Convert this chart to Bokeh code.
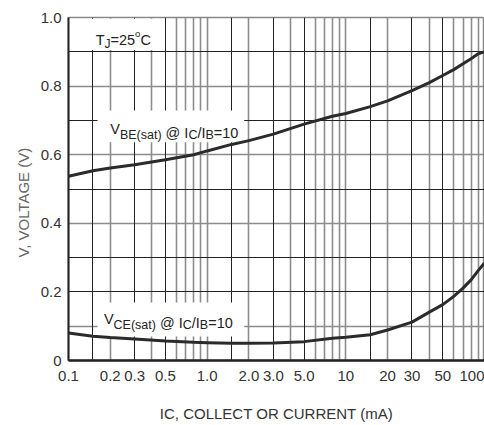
from bokeh.plotting import figure
from bokeh.models import FixedTicker, Grid, BoxAnnotation, Range1d, Title
from bokeh.core.properties import value
from bokeh.embed import file_html
from bokeh.resources import INLINE

# ---------------- data ----------------
ic_ma = [0.1, 0.15, 0.2, 0.3, 0.5, 0.8, 1.0, 1.5, 2.0, 3.0, 5.0, 8.0,
         10, 15, 20, 30, 40, 50, 60, 70, 80, 90, 100]
vbe_sat = [0.537, 0.553, 0.561, 0.571, 0.585, 0.600, 0.611, 0.630, 0.641,
           0.660, 0.689, 0.712, 0.720, 0.740, 0.757, 0.787, 0.810, 0.831,
           0.848, 0.865, 0.880, 0.894, 0.900]
vce_sat = [0.080, 0.071, 0.067, 0.063, 0.057, 0.053, 0.052, 0.050, 0.050,
           0.051, 0.055, 0.065, 0.068, 0.075, 0.089, 0.112, 0.141, 0.163,
           0.187, 0.211, 0.235, 0.262, 0.284]

x_tick_values = [0.1, 0.2, 0.3, 0.5, 1, 2, 3, 5, 10, 20, 30, 50, 100]
x_tick_labels = ["0.1", "0.2", "0.3", "0.5", "1.0", "2.0", "3.0", "5.0",
                 "10", "20", "30", "50", "100"]
y_tick_values = [0, 0.2, 0.4, 0.6, 0.8, 1.0]
y_tick_labels = ["0", "0.2", "0.4", "0.6", "0.8", "1.0"]

grid_dark_x = [0.15, 0.3, 0.5, 1.5, 3, 5, 15, 30, 50]
grid_light_x = [0.2, 0.4, 0.6, 0.7, 0.8, 0.9, 1, 2, 4, 6, 7, 8, 9, 10,
                20, 40, 60, 70, 80, 90]
grid_dark_y = [0.2, 0.3, 0.5, 0.7, 0.9]
grid_light_y = [0.1, 0.4, 0.6, 0.8]

x_title = "IC, COLLECT OR CURRENT (mA)"
y_title = "V, VOLTAGE (V)"

FONT = "Liberation Sans"
INK = "#222222"

p = figure(width=484, height=425, x_axis_type="log",
           x_range=Range1d(0.1, 100), y_range=Range1d(0, 1.0),
           output_backend="svg", toolbar_location=None,
           min_border_left=68, min_border_right=0,
           min_border_top=17, min_border_bottom=65)
p.background_fill_color = "white"
p.border_fill_color = "white"
p.outline_line_color = "#888888"
p.outline_line_width = 1.5
p.xgrid.grid_line_color = None
p.ygrid.grid_line_color = None

# axes
for ax in (p.xaxis[0], p.yaxis[0]):
    ax.major_tick_line_color = None
    ax.minor_tick_line_color = None
    ax.major_tick_out = 0
    ax.major_tick_in = 0
    ax.minor_tick_out = 0
    ax.minor_tick_in = 0
    ax.major_label_text_font = FONT
    ax.major_label_text_font_size = "15px"
    ax.major_label_text_color = "#333333"
    ax.axis_line_color = INK

p.xaxis.ticker = FixedTicker(ticks=x_tick_values)
p.xaxis.major_label_overrides = dict(zip(x_tick_values, x_tick_labels))
p.yaxis.ticker = FixedTicker(ticks=y_tick_values)
p.yaxis.major_label_overrides = dict(zip(y_tick_values, y_tick_labels))
p.xaxis.axis_line_width = 2.5
p.yaxis.axis_line_width = 2
p.xaxis.major_label_standoff = 10
p.yaxis.major_label_standoff = 7

# x axis title
p.xaxis.axis_label = x_title
p.xaxis.axis_label_text_font = FONT
p.xaxis.axis_label_text_font_size = "15px"
p.xaxis.axis_label_text_font_style = "normal"
p.xaxis.axis_label_text_color = "#333333"
p.xaxis.axis_label_standoff = 21

# y axis title as a side title so it can sit a little below centre
p.add_layout(Title(text=y_title, align="left", offset=103, standoff=12,
                   text_font=FONT, text_font_size="15px",
                   text_font_style="normal", text_color="#666666"), "left")

# grid lines (light first, dark on top)
for dim, ticks, color, width in [
        (0, grid_light_x, "#8c8c8c", 1.6),
        (1, grid_light_y, "#8c8c8c", 1.6),
        (0, grid_dark_x, "#222222", 1.0),
        (1, grid_dark_y, "#222222", 1.0)]:
    p.add_layout(Grid(dimension=dim, ticker=FixedTicker(ticks=ticks),
                      grid_line_color=color, grid_line_width=width))

# white backgrounds behind the in-plot labels
for l, r, b, t in [(0.1, 0.46, 0.905, 0.996),
                   (0.162, 1.85, 0.636, 0.729),
                   (0.162, 1.85, 0.070, 0.169)]:
    p.add_layout(BoxAnnotation(left=l, right=r, bottom=b, top=t,
                               fill_color="white", fill_alpha=1.0,
                               line_color=None, level="underlay"))

# curves
p.line(ic_ma, vbe_sat, line_color="#2b2b2b", line_width=3)
p.line(ic_ma, vce_sat, line_color="#2b2b2b", line_width=3)

# rich labels built from text pieces
ARIAL_W = {' ': 0.278, '(': 0.333, ')': 0.333, '/': 0.278, '=': 0.584,
           '@': 1.015, '.': 0.278, 'A': 0.667, 'B': 0.667, 'C': 0.722,
           'E': 0.667, 'I': 0.278, 'J': 0.5, 'T': 0.611, 'V': 0.667,
           's': 0.5, 'a': 0.556, 't': 0.278, 'o': 0.556}


def text_width(s, size):
    return sum(ARIAL_W.get(ch, 0.556) for ch in s) * size


def rich_label(x, y, segments):
    off = 0.0
    for txt, size, dy in segments:
        lead = len(txt) - len(txt.lstrip(" "))
        core = txt.strip(" ")
        if core:
            p.text(x=[x], y=[y], text=[core],
                   x_offset=off + text_width(" " * lead, size), y_offset=dy,
                   text_font=value(FONT), text_font_size=f"{size}px",
                   text_baseline="alphabetic", text_align="left",
                   text_color=INK)
        off += text_width(txt, size)


MAIN, SUB = 14.5, 12.5
sat_label_be = [("V", MAIN, 0), ("BE(sat)", SUB, 6), (" @ ", MAIN, 4),
                ("I", MAIN, 4), ("C", SUB, 6), ("/", MAIN, 4), ("I", MAIN, 4),
                ("B", SUB, 6), ("=10", MAIN, 4)]
sat_label_ce = [("V", MAIN, 0), ("CE(sat)", SUB, 6), (" @ ", MAIN, 4),
                ("I", MAIN, 4), ("C", SUB, 6), ("/", MAIN, 4), ("I", MAIN, 4),
                ("B", SUB, 6), ("=10", MAIN, 4)]
tj_label = [("T", MAIN, 0), ("J", 12, 4), ("=25", MAIN, 0), ("o", 9.5, -7),
            ("C", MAIN, 0)]

rich_label(0.157, 0.933, tj_label)
rich_label(0.2, 0.676, sat_label_be)
rich_label(0.18, 0.122, sat_label_ce)

open("out.html", "w").write(file_html(p, INLINE))
